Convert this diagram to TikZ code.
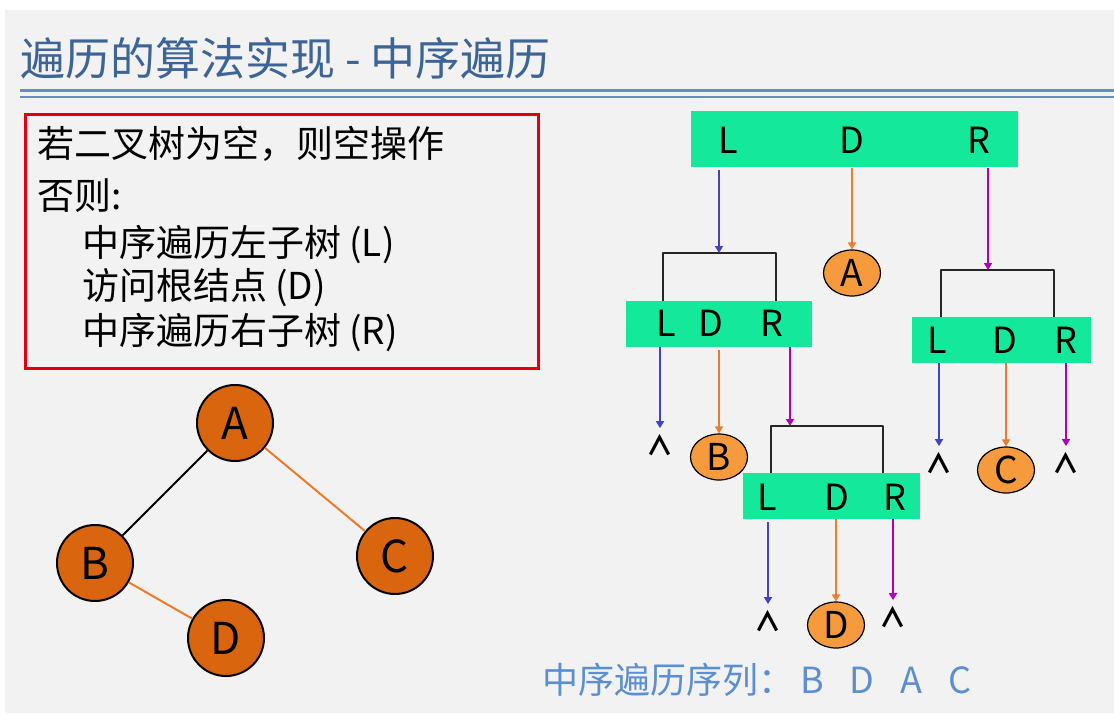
\documentclass[tikz,border=0pt]{standalone}
\usepackage{fontspec}
\setmainfont{Noto Sans CJK SC}
\usetikzlibrary{arrows.meta,shapes.geometric}
\definecolor{bgc}{HTML}{F2F2F2}
\definecolor{titlec}{HTML}{3C6496}
\definecolor{linec}{HTML}{6A8CC0}
\definecolor{redc}{HTML}{E0000F}
\definecolor{greenc}{HTML}{14E89B}
\definecolor{bluea}{HTML}{4343C8}
\definecolor{orangea}{HTML}{F07A2A}
\definecolor{magentaa}{HTML}{B000B8}
\definecolor{ellfill}{HTML}{F59B3D}
\definecolor{treefill}{HTML}{D9660F}
\definecolor{bottomc}{HTML}{5B8FD2}
\tikzset{
  bar/.style={rectangle, fill=greenc, inner sep=0},
  barlbl/.style={inner sep=0, font=\fontsize{36}{40}\selectfont},
  ell/.style={ellipse, draw=black, line width=1.2pt, fill=ellfill, inner sep=0,
    minimum width=57, minimum height=46, font=\fontsize{37}{40}\selectfont},
  tnode/.style={circle, draw=black, line width=2pt, fill=treefill, inner sep=0,
    minimum size=76, font=\fontsize{44}{48}\selectfont},
  nil/.style={inner xsep=0, inner ysep=6pt, font=\bfseries\fontsize{27}{27}\selectfont},
  arr/.style={line width=1.7pt, -{Triangle[width=8pt,length=7pt]}},
  arrL/.style={arr, draw=bluea, fill=bluea},
  arrD/.style={arr, draw=orangea, fill=orangea},
  arrR/.style={arr, draw=magentaa, fill=magentaa},
  bk/.style={draw=black!85, line width=2pt, line join=round},
  txt/.style={anchor=west, inner sep=0, font=\fontsize{37}{42}\selectfont},
}
\begin{document}
\begin{tikzpicture}[x=1pt,y=-1pt]
\useasboundingbox (0,0) rectangle (1114,713);
\fill[bgc] (5,10) rectangle (1114,713);

% title
\node[anchor=west, inner sep=0, text=titlec, font=\fontsize{45}{50}\selectfont] (title) at (20,58) {遍历的算法实现 - 中序遍历};
\draw[linec, line width=3pt] (20,90) -- (1114,90);
\draw[linec, line width=1.5pt] (20,97) -- (1114,97);

% red box with text
\node[draw=redc, line width=3pt, minimum width=513, minimum height=254, inner sep=0, anchor=north west] (box) at (24,113) {};
\node[txt] (t1) at (37,144) {若二叉树为空，则空操作};
\node[txt] (t2) at (37,196) {否则:};
\node[txt] (t3) at (82,244) {中序遍历左子树 (L)};
\node[txt] (t4) at (82,288) {访问根结点 (D)};
\node[txt] (t5) at (82,332) {中序遍历右子树 (R)};

% tree
\node[tnode] (A) at (235,423) {A};
\node[tnode] (B) at (95,563) {B};
\node[tnode] (C) at (395,556) {C};
\node[tnode] (D) at (226,638) {D};
\draw[black, line width=2pt] (A) -- (B);
\draw[orangea, line width=2pt] (A) -- (C);
\draw[orangea, line width=2pt] (B) -- (D);

% top bar
\node[bar, minimum width=327, minimum height=56] (barT) at (854.5,139) {};
\node[barlbl] (LT) at (728,140) {L};
\node[barlbl] (DT) at (852,140) {D};
\node[barlbl] (RT) at (979,140) {R};

% brackets
\draw[bk] (663,301) -- (663,253) -- (776,253) -- (776,301);
\draw[bk] (941,317) -- (941,270) -- (1054,270) -- (1054,317);
\draw[bk] (771,473) -- (771,426) -- (883,426) -- (883,473);
\coordinate (k1) at (719,253);
\coordinate (k2) at (988,270);
\coordinate (k3) at (790,426);

% sub bars
\node[bar, minimum width=186, minimum height=46] (bar1) at (719,324) {};
\node[barlbl] (L1) at (666,323) {L};
\node[barlbl] (D1) at (711,323) {D};
\node[barlbl] (R1) at (772,323) {R};

\node[bar, minimum width=179, minimum height=46] (bar2) at (1001.5,340) {};
\node[barlbl] (L2) at (937,340) {L};
\node[barlbl] (D2) at (1005,340) {D};
\node[barlbl] (R2) at (1066,340) {R};

\node[bar, minimum width=177, minimum height=46] (bar3) at (831.5,496) {};
\node[barlbl] (L3) at (767,497) {L};
\node[barlbl] (D3) at (837,497) {D};
\node[barlbl] (R3) at (895,497) {R};

% visited nodes
\node[ell] (eA) at (852,273) {A};
\node[ell] (eB) at (719,457) {B};
\node[ell] (eC) at (1006,470) {C};
\node[ell] (eD) at (836,625) {D};

% empty markers
\node[nil] (n1) at (660,445) {∧};
\node[nil] (n2) at (939,463) {∧};
\node[nil] (n3) at (1066,463) {∧};
\node[nil] (n4) at (768,621) {∧};
\node[nil] (n5) at (893,617) {∧};

% arrows from top bar
\draw[arrL, shorten <=3pt] (barT.south -| k1) -- (k1);
\draw[arrD, shorten <=1pt] (barT.south -| eA.north) -- (eA.north);
\draw[arrR, shorten <=1pt] (barT.south -| k2) -- (k2);

% arrows from bar1
\draw[arrL] (bar1.south -| n1.north) -- (n1.north);
\draw[arrD, shorten <=3pt] (bar1.south -| eB.north) -- (eB.north);
\draw[arrR] (bar1.south -| k3) -- (k3);

% arrows from bar2
\draw[arrL] (bar2.south -| n2.north) -- (n2.north);
\draw[arrD] (bar2.south -| eC.north) -- (eC.north);
\draw[arrR] (bar2.south -| n3.north) -- (n3.north);

% arrows from bar3
\draw[arrL, shorten <=3pt] (bar3.south -| n4.north) -- (n4.north);
\draw[arrD] (bar3.south -| eD.north) -- (eD.north);
\draw[arrR] (bar3.south -| n5.north) -- (n5.north);

% result
\node[anchor=west, inner sep=0, text=bottomc, font=\fontsize{36}{40}\selectfont] (res) at (542,680) {中序遍历序列：\hspace{6pt}B\hspace{26pt}D\hspace{26pt}A\hspace{26pt}C};
\end{tikzpicture}
\end{document}
